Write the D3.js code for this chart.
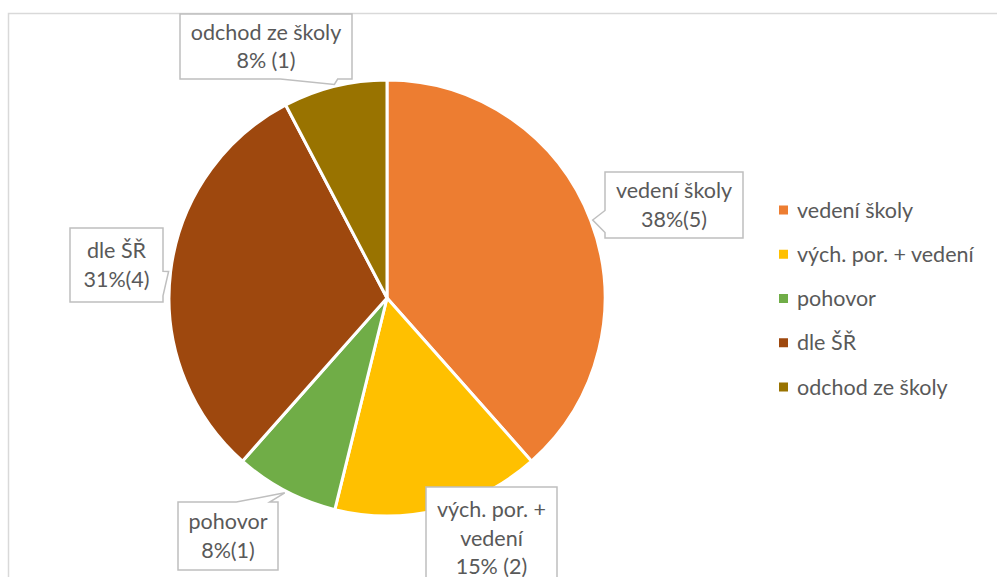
<!DOCTYPE html>
<html lang="cs">
<head>
<meta charset="UTF-8">
<title>Pie</title>
<script src="https://d3js.org/d3.v7.min.js"></script>
<style>
  body { margin: 0; background: #fff; font-family: Lato, "Open Sans", sans-serif; }
  svg { display: block; }
  .lbl { fill: #595959; font-size: 21.5px; text-anchor: middle; }
  .leg { fill: #595959; font-size: 21.5px; }
</style>
</head>
<body>
<svg id="chart" width="997" height="577"></svg>
<script>
const categories = ["vedení školy", "vých. por. + vedení", "pohovor", "dle ŠŘ", "odchod ze školy"];
const counts = [5, 2, 1, 4, 1];
const labelTexts = [
  ["vedení školy", "38%(5)"],
  ["vých. por. +", "vedení", "15% (2)"],
  ["pohovor", "8%(1)"],
  ["dle ŠŘ", "31%(4)"],
  ["odchod ze školy", "8% (1)"]
];
const colors = ["#ED7D31", "#FFC000", "#70AD47", "#9E480E", "#997300"];

// label box layout (x, y, w, h) — positions only
const boxes = [
  { x: 605, y: 172, w: 138, h: 66 },
  { x: 426, y: 487, w: 131, h: 100 },
  { x: 178, y: 502, w: 100, h: 68 },
  { x: 70, y: 228, w: 93, h: 74 },
  { x: 180, y: 14, w: 172, h: 65 }
];

const svg = d3.select("#chart");
const cx = 387, cy = 298, radius = 218;

svg.append("rect")
  .attr("x", 8.5).attr("y", 13.5)
  .attr("width", 1100).attr("height", 700)
  .attr("fill", "none").attr("stroke", "#d9d9d9").attr("stroke-width", 1.5);

const pie = d3.pie().sort(null).value(d => d);
const arcs = pie(counts);
const arc = d3.arc().innerRadius(0).outerRadius(radius);

const g = svg.append("g").attr("transform", `translate(${cx},${cy})`);
g.selectAll("path.slice")
  .data(arcs)
  .join("path")
  .attr("class", "slice")
  .attr("d", arc)
  .attr("fill", (d, i) => colors[i])
  .attr("stroke", "#fff")
  .attr("stroke-width", 3)
  .attr("stroke-linejoin", "round");

// callout path with wedge pointing at tip
function callout(b, t) {
  const l = b.x, r = b.x + b.w, tp = b.y, bt = b.y + b.h;
  const inside = t[0] >= l && t[0] <= r && t[1] >= tp && t[1] <= bt;
  const pts = [];
  const fx = t[0] > l + b.w / 2 ? [7 / 12, 11 / 12] : [1 / 12, 5 / 12];
  const fy = t[1] > tp + b.h / 2 ? [7 / 12, 11 / 12] : [1 / 12, 5 / 12];
  pts.push([l, tp]);
  if (!inside && t[1] < tp) { pts.push([l + b.w * fx[0], tp], t, [l + b.w * fx[1], tp]); }
  pts.push([r, tp]);
  if (!inside && t[0] > r && t[1] >= tp && t[1] <= bt) { pts.push([r, tp + b.h * fy[0]], t, [r, tp + b.h * fy[1]]); }
  pts.push([r, bt]);
  if (!inside && t[1] > bt) { pts.push([l + b.w * fx[1], bt], t, [l + b.w * fx[0], bt]); }
  pts.push([l, bt]);
  if (!inside && t[0] < l && t[1] >= tp && t[1] <= bt) { pts.push([l, tp + b.h * fy[1]], t, [l, tp + b.h * fy[0]]); }
  return "M" + pts.map(p => p.join(",")).join("L") + "Z";
}

const labels = svg.append("g");
arcs.forEach((d, i) => {
  const mid = (d.startAngle + d.endAngle) / 2;
  const tip = [cx + Math.sin(mid) * (radius + 2), cy - Math.cos(mid) * (radius + 2)];
  const b = boxes[i];
  labels.append("path")
    .attr("d", callout(b, tip))
    .attr("fill", "#fff")
    .attr("stroke", "#bfbfbf")
    .attr("stroke-width", 1.5);
  const lines = labelTexts[i];
  const lh = 28.5;
  const y0 = i === 1 ? b.y + 30 : b.y + b.h / 2 - (lines.length - 1) * lh / 2 + 7.5;
  lines.forEach((s, j) => {
    labels.append("text")
      .attr("class", "lbl")
      .attr("x", b.x + b.w / 2)
      .attr("y", y0 + j * lh)
      .text(s);
  });
});

// legend
const legY = d3.scalePoint().domain(categories).range([210, 387]);
const leg = svg.append("g").selectAll("g")
  .data(categories)
  .join("g")
  .attr("transform", d => `translate(779,${legY(d)})`);
leg.append("rect")
  .attr("x", 0).attr("y", -4.5)
  .attr("width", 9).attr("height", 9)
  .attr("fill", (d, i) => colors[i]);
leg.append("text")
  .attr("class", "leg")
  .attr("x", 18).attr("y", 7.5)
  .text(d => d);
</script>
</body>
</html>
